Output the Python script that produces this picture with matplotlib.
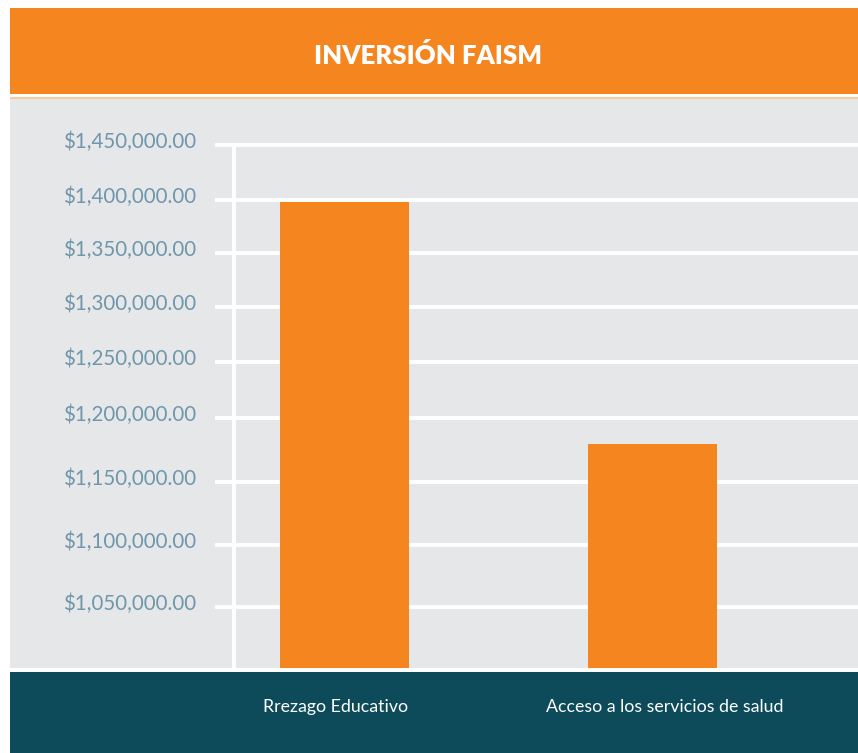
import numpy as np
import matplotlib
matplotlib.use("Agg")
import matplotlib.pyplot as plt
from matplotlib.patches import Rectangle
from matplotlib.transforms import ScaledTranslation

# ---- data ----
categories = ["Rrezago Educativo", "Acceso a los servicios de salud"]
values = [1398000, 1180000]
tick_values = [1050000, 1100000, 1150000, 1200000, 1250000, 1300000, 1350000, 1400000, 1450000]
title = "INVERSIÓN FAISM"

# ---- style ----
ORANGE = "#F5851F"
LIGHT_ORANGE = "#FCC99B"
GRAY = "#E6E7E9"
TEAL = "#0D4A5A"
TICK_COLOR = "#6F96AA"
W, H = 858, 753

# uneven axis spacing as drawn in the reference (value -> relative height)
scale_vals = np.array([0, 1000000, 1050000, 1100000, 1150000, 1200000, 1250000,
                       1300000, 1350000, 1400000, 1450000, 1500000, 3000000], float)
scale_pos = np.array([-1240, 0, 61, 123, 186, 250, 306, 361, 415, 468, 523, 578, 2228], float)

def fwd(v):
    return np.interp(v, scale_vals, scale_pos)

def inv(p):
    return np.interp(p, scale_pos, scale_vals)

plt.rcParams["font.family"] = ["Lato", "DejaVu Sans"]

fig = plt.figure(figsize=(W / 100, H / 100), dpi=100)
fig.patch.set_facecolor("white")

def px_rect(x0, y0_top, x1, y1_top, color):
    fig.patches.append(Rectangle((x0 / W, 1 - y1_top / H), (x1 - x0) / W,
                                 (y1_top - y0_top) / H, transform=fig.transFigure,
                                 facecolor=color, edgecolor="none", zorder=-10))

px_rect(10, 8, W, 94, ORANGE)
px_rect(10, 97, W, 99, LIGHT_ORANGE)
px_rect(10, 99, W, 668, GRAY)
px_rect(10, 672, W, H, TEAL)

fig.text(428 / W, 1 - 56 / H, title, color="white", fontsize=18.5,
         fontweight="heavy", ha="center", va="center")

ax = fig.add_axes([215 / W, (H - 668) / H, (W - 215) / W, (668 - 99) / H])
ax.set_zorder(5)
ax.set_facecolor(GRAY)
ax.set_yscale("function", functions=(fwd, inv))

x = np.arange(len(categories))
ax.bar(x, values, width=0.419, color=ORANGE, zorder=3)

ax.set_xlim(-0.4205, 1.667)
ax.set_ylim(1000000, 1491800)

ax.set_yticks(tick_values)
ax.set_yticklabels(["${:,.2f}".format(v) for v in tick_values])
ax.yaxis.grid(True, color="white", linewidth=2.8, zorder=1)
ax.set_axisbelow(True)
ax.tick_params(axis="y", length=0, pad=27, labelsize=14.8, labelcolor=TICK_COLOR)

ax.set_xticks(x)
ax.set_xticklabels(categories)
ax.tick_params(axis="x", length=0, pad=22, labelsize=12.8, labelcolor="white")

for s in ["top", "right", "bottom"]:
    ax.spines[s].set_visible(False)
ax.spines["left"].set_position(("data", -0.359))
ax.spines["left"].set_bounds(1000000, 1450000)
ax.spines["left"].set_color("white")
ax.spines["left"].set_linewidth(2.8)
ax.spines["left"].set_zorder(2)

# small offsets of the labels as placed in the reference
for lab in ax.get_yticklabels():
    lab.set_transform(lab.get_transform() + ScaledTranslation(0, 5 / 100, fig.dpi_scale_trans))
for lab, dx in zip(ax.get_xticklabels(), [-9, 12]):
    lab.set_transform(lab.get_transform() + ScaledTranslation(dx / 100, 0, fig.dpi_scale_trans))

fig.savefig("out.png", dpi=100, facecolor=fig.get_facecolor())
